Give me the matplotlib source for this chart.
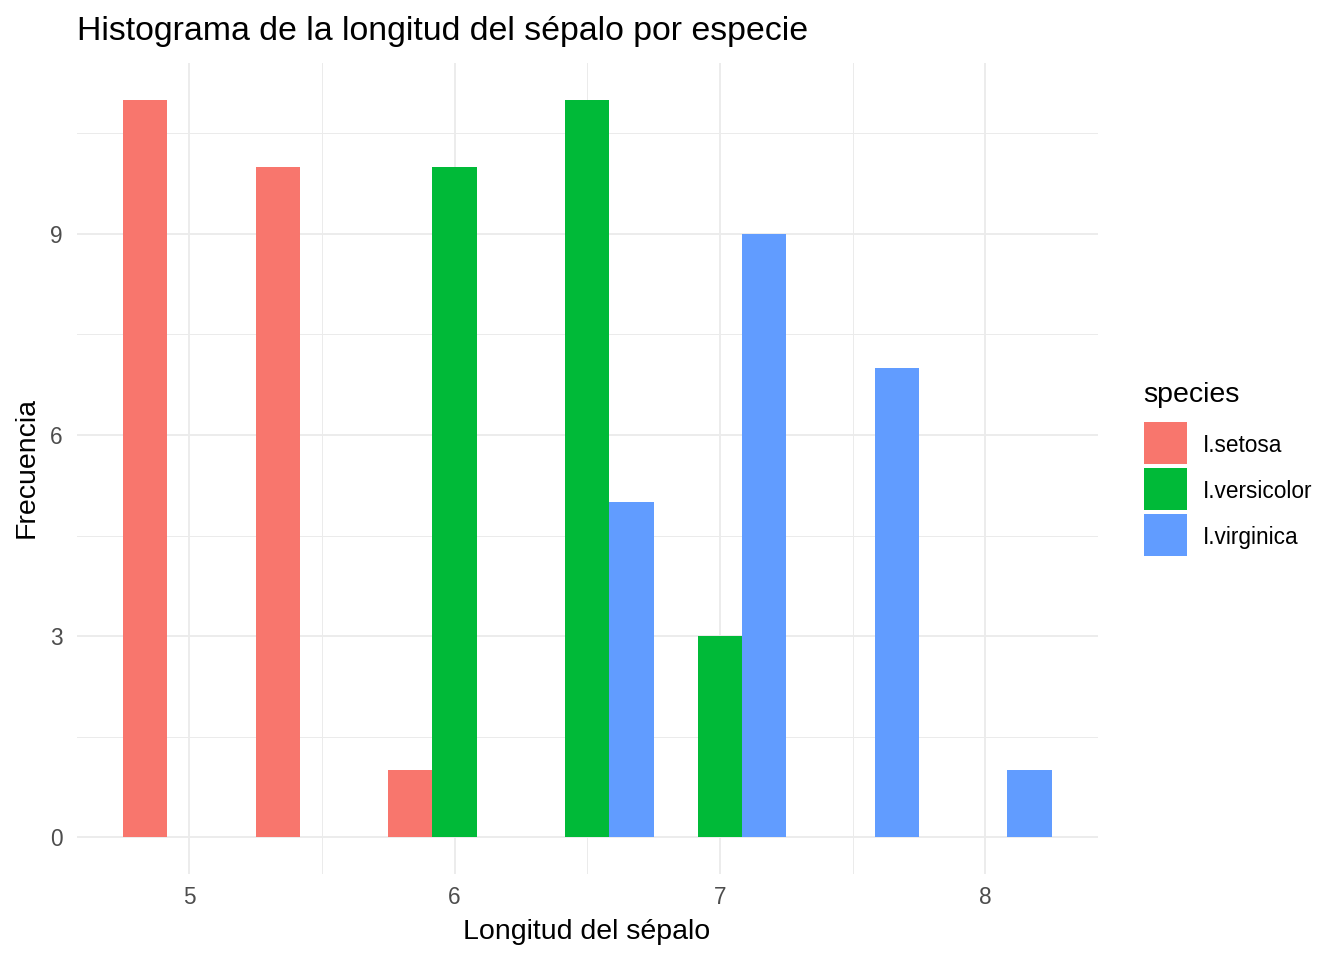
import numpy as np
import matplotlib
matplotlib.use("Agg")
import matplotlib.pyplot as plt
from matplotlib.patches import Rectangle

plt.rcParams["font.family"] = ["Liberation Sans", "DejaVu Sans"]

species = ["I.setosa", "I.versicolor", "I.virginica"]
colors = ["#F8766D", "#00BA38", "#619CFF"]
bin_centers = [5.0, 5.5, 6.0, 6.5, 7.0, 7.5, 8.0]
counts_setosa = [11, 10, 1, 0, 0, 0, 0]
counts_versicolor = [0, 0, 10, 11, 3, 0, 0]
counts_virginica = [0, 0, 0, 5, 9, 7, 1]
bin_width = 0.5

W, H = 1344, 960
fig = plt.figure(figsize=(W / 100, H / 100), dpi=100)
ax = fig.add_axes([76.5 / W, 1 - 874 / H, (1098 - 76.5) / W, (874 - 63) / H])


def px(x, y):
    # pixel position (from top-left) -> figure fraction
    return x / W, 1 - y / H


series = [counts_setosa, counts_versicolor, counts_virginica]
w = bin_width / len(series)
centers = np.array(bin_centers)
for i, (vals, c) in enumerate(zip(series, colors)):
    xs = centers - bin_width / 2 + (i + 0.5) * w
    ax.bar(xs, vals, width=w, color=c, linewidth=0, zorder=3)

lo = centers[0] - bin_width / 2
hi = centers[-1] + bin_width / 2
pad = 0.05 * (hi - lo)
ax.set_xlim(lo - pad, hi + pad)
ymax = max(max(s) for s in series)
ax.set_ylim(-0.05 * ymax, ymax * 1.05)

ax.set_xticks([5, 6, 7, 8])
ax.set_xticks([5.5, 6.5, 7.5], minor=True)
ax.set_yticks([0, 3, 6, 9])
ax.set_yticks([1.5, 4.5, 7.5, 10.5], minor=True)
ax.grid(True, which="major", color="#EBEBEB", linewidth=1.3, zorder=0)
ax.grid(True, which="minor", color="#EBEBEB", linewidth=0.7, zorder=0)
ax.tick_params(which="both", length=0)
ax.tick_params(axis="both", labelsize=16.3, labelcolor="#4D4D4D")
ax.tick_params(axis="x", pad=8.5)
ax.tick_params(axis="y", pad=10)
for s in ax.spines.values():
    s.set_visible(False)

fs_lab = 20.5
fig.text(*px(587, 939), "Longitud del sépalo", fontsize=fs_lab,
         ha="center", va="baseline")
fig.text(*px(27, 467), "Frecuencia", fontsize=fs_lab, rotation=90,
         ha="center", va="center")
fig.text(*px(77, 40), "Histograma de la longitud del sépalo por especie",
         fontsize=24.4, ha="left", va="baseline")

# legend (ggplot style keys)
fig.text(*px(1143, 402), "species", fontsize=fs_lab, ha="left", va="baseline")
key_tops = [422, 468, 514]
for top, name, c in zip(key_tops, species, colors):
    fig.add_artist(Rectangle(px(1144, top + 42), 43 / W, 42 / H,
                             transform=fig.transFigure, facecolor=c,
                             edgecolor="none"))
    fig.text(*px(1203, top + 30), name, fontsize=16.3, ha="left",
             va="baseline")

fig.savefig("out.png", dpi=100)
